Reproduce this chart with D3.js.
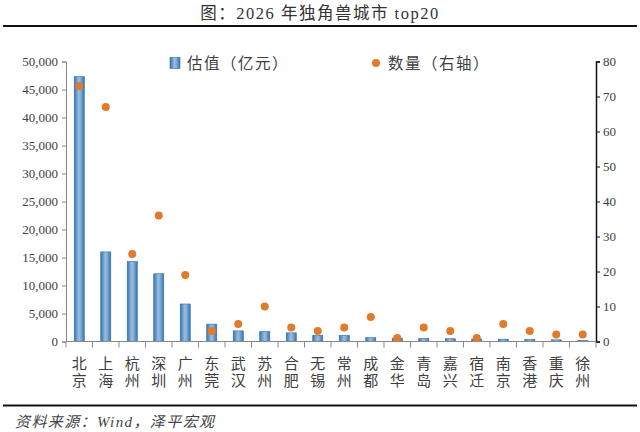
<!DOCTYPE html>
<html>
<head>
<meta charset="utf-8">
<script src="https://cdn.jsdelivr.net/npm/d3@7"></script>
<style>
  body { margin: 0; background: #fff; }
  svg { display: block; }
  .cn { font-family: "Liberation Serif", "Noto Sans CJK SC", serif; }
</style>
</head>
<body>
<svg id="chart" width="640" height="432"></svg>
<script>
// data
const cities = ["北京","上海","杭州","深圳","广州","东莞","武汉","苏州","合肥","无锡",
                "常州","成都","金华","青岛","嘉兴","宿迁","南京","香港","重庆","徐州"]
const valuation = [47300, 16000, 14300, 12100, 6700, 3100, 1900, 1800, 1550, 1130,
                   1100, 700, 600, 550, 500, 450, 420, 400, 300, 200]
const counts = [73, 67, 25, 36, 19, 3, 5, 10, 4, 3,
                4, 7, 1, 4, 3, 1, 5, 3, 2, 2]
const leftTicks = [0, 5000, 10000, 15000, 20000, 25000, 30000, 35000, 40000, 45000, 50000]
const rightTicks = [0, 10, 20, 30, 40, 50, 60, 70, 80]

const titleText = "图：2026 年独角兽城市 top20"
const sourceText = "资料来源：Wind，泽平宏观"
const legendBar = "估值（亿元）"
const legendDot = "数量（右轴）"

const svg = d3.select("#chart")
const dotColor = "#e27a2c"
const textColor = "#404040"

const plot = {left: 66, right: 596, top: 61.5, bottom: 341.5}

const x = d3.scaleBand().domain(cities).range([plot.left, plot.right]).padding(0)
const yL = d3.scaleLinear().domain([0, 50000]).range([plot.bottom, plot.top])
const yR = d3.scaleLinear().domain([0, 80]).range([plot.bottom, plot.top])

// bar gradient, darker edges and lighter middle
const grad = svg.append("defs").append("linearGradient")
    .attr("id", "barGrad").attr("x1", "0").attr("x2", "1").attr("y1", "0").attr("y2", "0")
grad.append("stop").attr("offset", "0%").attr("stop-color", "#3574ae")
grad.append("stop").attr("offset", "45%").attr("stop-color", "#98bde0")
grad.append("stop").attr("offset", "60%").attr("stop-color", "#8ab2d8")
grad.append("stop").attr("offset", "100%").attr("stop-color", "#3574ae")

// title and rules
svg.append("text").attr("class", "cn")
    .attr("x", 320).attr("y", 19)
    .attr("text-anchor", "middle")
    .attr("font-size", 16.5).attr("letter-spacing", 1.5).attr("fill", "#333")
    .text(titleText)

svg.append("line").attr("x1", 3).attr("x2", 637).attr("y1", 26).attr("y2", 26)
    .attr("stroke", "#111").attr("stroke-width", 2.2)
svg.append("line").attr("x1", 3).attr("x2", 637).attr("y1", 405.5).attr("y2", 405.5)
    .attr("stroke", "#111").attr("stroke-width", 2.2)

svg.append("text").attr("class", "cn")
    .attr("x", 15).attr("y", 427)
    .attr("font-size", 15).attr("font-style", "italic").attr("letter-spacing", 1.4)
    .attr("fill", "#444")
    .text(sourceText)

// left axis
const axL = svg.append("g").attr("transform", `translate(${plot.left},0)`)
    .call(d3.axisLeft(yL).tickValues(leftTicks).tickSize(4).tickPadding(4)
        .tickFormat(d3.format(",")))
axL.select(".domain").attr("stroke", "#888")
axL.selectAll(".tick line").attr("stroke", "#888")
axL.selectAll("text").attr("font-family", "Liberation Serif").attr("font-size", 13)
    .attr("fill", textColor)

// right axis
const axR = svg.append("g").attr("transform", `translate(${plot.right},0)`)
    .call(d3.axisRight(yR).tickValues(rightTicks).tickSize(4).tickPadding(3))
axR.select(".domain").attr("stroke", "#111").attr("stroke-width", 1.5)
axR.selectAll(".tick line").attr("stroke", "#111")
axR.selectAll("text").attr("font-family", "Liberation Serif").attr("font-size", 13)
    .attr("fill", textColor)

// bars
const barW = x.bandwidth() * 0.38
svg.append("g").selectAll("rect")
    .data(cities)
    .join("rect")
    .attr("x", (d) => x(d) + (x.bandwidth() - barW) / 2)
    .attr("y", (d, i) => yL(valuation[i]))
    .attr("width", barW)
    .attr("height", (d, i) => plot.bottom - yL(valuation[i]))
    .attr("fill", "url(#barGrad)")
    .attr("stroke", "#3370aa")
    .attr("stroke-width", 0.6)

// x axis with ticks at band edges
svg.append("line")
    .attr("x1", plot.left).attr("x2", plot.right)
    .attr("y1", plot.bottom).attr("y2", plot.bottom)
    .attr("stroke", "#888")
const edges = cities.map((d) => x(d)).concat([plot.right])
svg.append("g").selectAll("line")
    .data(edges)
    .join("line")
    .attr("x1", (d) => d).attr("x2", (d) => d)
    .attr("y1", plot.bottom).attr("y2", plot.bottom + 6)
    .attr("stroke", "#888")

const lab = svg.append("g").selectAll("text")
    .data(cities)
    .join("text")
    .attr("class", "cn")
    .attr("text-anchor", "middle")
    .attr("font-size", 15)
    .attr("fill", textColor)
lab.selectAll("tspan")
    .data((d) => d.split(""))
    .join("tspan")
    .attr("x", function(){ return x(d3.select(this.parentNode).datum()) + x.bandwidth() / 2 })
    .attr("y", (c, j) => 369 + j * 17)
    .text((c) => c)

// dots
svg.append("g").selectAll("circle")
    .data(cities)
    .join("circle")
    .attr("cx", (d) => x(d) + x.bandwidth() / 2)
    .attr("cy", (d, i) => yR(counts[i]))
    .attr("r", 4)
    .attr("fill", dotColor)

// legend
svg.append("rect").attr("x", 170).attr("y", 57.5).attr("width", 10).attr("height", 11)
    .attr("fill", "url(#barGrad)").attr("stroke", "#3370aa").attr("stroke-width", 0.6)
svg.append("text").attr("class", "cn")
    .attr("x", 187).attr("y", 68.5)
    .attr("font-size", 15.5).attr("letter-spacing", 1.5).attr("fill", textColor)
    .text(legendBar)
svg.append("circle").attr("cx", 376).attr("cy", 63).attr("r", 4).attr("fill", dotColor)
svg.append("text").attr("class", "cn")
    .attr("x", 388).attr("y", 68.5)
    .attr("font-size", 15.5).attr("letter-spacing", 1.5).attr("fill", textColor)
    .text(legendDot)
</script>
</body>
</html>
